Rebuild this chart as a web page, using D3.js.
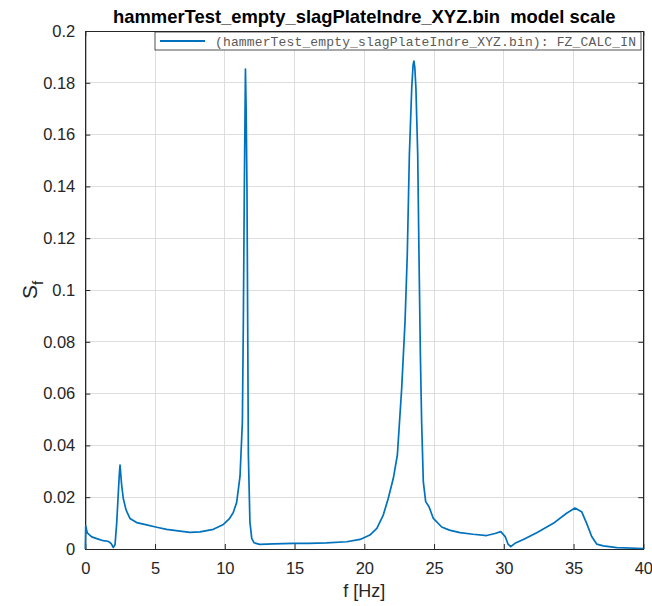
<!DOCTYPE html>
<html>
<head>
<meta charset="utf-8">
<script src="https://cdn.jsdelivr.net/npm/d3@7"></script>
<style>
  html, body { margin: 0; padding: 0; background: #fff; }
  svg { display: block; }
</style>
</head>
<body>
<svg id="chart" width="652" height="606"></svg>
<script>
// Spectrum S_f versus frequency (hammer test)
const freq = [0, 0.03, 0.14, 0.46, 0.82, 1.29, 1.6, 1.75, 1.87, 2.0, 2.13, 2.25, 2.34, 2.44, 2.49, 2.54, 2.6,
  2.72, 2.92, 3.2, 3.68, 4.4, 5.12, 5.83, 6.79, 7.5, 8.22, 9.18, 9.9, 10.3, 10.6, 10.85, 11.09, 11.26,
  11.33, 11.4, 11.48, 11.53, 11.59, 11.64, 11.69, 11.8, 11.93, 12.1, 12.5, 13.5, 14.9, 16, 17.3, 18.74,
  19.7, 20.4, 20.9, 21.36, 21.72, 22.08, 22.37, 22.68, 22.92, 23.08, 23.23, 23.4, 23.5, 23.56, 23.62,
  23.7, 23.83, 23.92, 24.02, 24.11, 24.23, 24.4, 24.64, 24.95, 25.55, 26.1, 26.86, 27.8, 28.77, 29.37,
  29.78, 30.1, 30.3, 30.5, 30.8, 31.4, 32.36, 33.55, 34.5, 35.1, 35.58, 35.94, 36.3, 36.66, 37.13, 38.1, 40];
const sf = [0, 0.0089, 0.0062, 0.0047, 0.0040, 0.0032, 0.0030, 0.0026, 0.0020, 0.0006, 0.0016, 0.0099, 0.019,
  0.029, 0.0324, 0.029, 0.0250, 0.0196, 0.0151, 0.0118, 0.0102, 0.0093, 0.0084, 0.0076, 0.0069, 0.0064,
  0.0066, 0.0076, 0.0095, 0.0115, 0.014, 0.018, 0.028, 0.049, 0.0878, 0.139, 0.1853, 0.17, 0.139, 0.0878,
  0.0363, 0.0105, 0.0041, 0.0024, 0.0018, 0.0020, 0.0022, 0.0022, 0.0024, 0.0028, 0.0037, 0.0054, 0.0080,
  0.0131, 0.0196, 0.0273, 0.0363, 0.062, 0.0878, 0.1135, 0.152, 0.178, 0.187, 0.1884, 0.186, 0.178, 0.152,
  0.1135, 0.0749, 0.049, 0.026, 0.0183, 0.0163, 0.0118, 0.0085, 0.0073, 0.0063, 0.0057, 0.0052, 0.0060,
  0.0067, 0.0048, 0.0019, 0.0009, 0.0022, 0.0037, 0.0063, 0.0099, 0.0138, 0.0158, 0.0144, 0.0099, 0.0048,
  0.0019, 0.0012, 0.0005, 0.0002];

const xTicks = [0, 5, 10, 15, 20, 25, 30, 35, 40];
const yTicks = [0, 0.02, 0.04, 0.06, 0.08, 0.1, 0.12, 0.14, 0.16, 0.18, 0.2];
const titleText = "hammerTest_empty_slagPlateIndre_XYZ.bin  model scale";
const legendText = "(hammerTest_empty_slagPlateIndre_XYZ.bin): FZ_CALC_IN";

const margin = { left: 85.3, right: 643.3, top: 31, bottom: 549 };
const lineColor = "#0072BD";
const axisColor = "#262626";
const font = "'Liberation Sans', Arial, Helvetica, sans-serif";

const svg = d3.select("#chart");

const x = d3.scaleLinear().domain([0, 40]).range([margin.left, margin.right]);
const y = d3.scaleLinear().domain([0, 0.2]).range([margin.bottom, margin.top]);

// grid
const grid = svg.append("g");
grid.selectAll("line.gx").data(xTicks).join("line")
  .attr("x1", d => x(d)).attr("x2", d => x(d))
  .attr("y1", margin.top).attr("y2", margin.bottom)
  .attr("stroke", "#dedede").attr("stroke-width", 1).attr("shape-rendering", "crispEdges");
grid.selectAll("line.gy").data(yTicks).join("line")
  .attr("x1", margin.left).attr("x2", margin.right)
  .attr("y1", d => y(d)).attr("y2", d => y(d))
  .attr("stroke", "#dedede").attr("stroke-width", 1).attr("shape-rendering", "crispEdges");

// axes with inward ticks
svg.append("g").attr("transform", `translate(0,${margin.bottom})`)
  .call(d3.axisBottom(x).tickValues(xTicks).tickSizeInner(-5).tickSizeOuter(0).tickPadding(13)
    .tickFormat(d3.format("d")));
svg.append("g").attr("transform", `translate(${margin.left},0)`)
  .call(d3.axisLeft(y).tickValues(yTicks).tickSizeInner(-5).tickSizeOuter(0).tickPadding(10)
    .tickFormat(d => d === 0 ? "0" : String(+d.toFixed(2))));
// mirrored ticks on top and right
svg.append("g").attr("transform", `translate(0,${margin.top})`)
  .call(d3.axisTop(x).tickValues(xTicks).tickSizeInner(-5).tickSizeOuter(0).tickFormat(""));
svg.append("g").attr("transform", `translate(${margin.right},0)`)
  .call(d3.axisRight(y).tickValues(yTicks).tickSizeInner(-5).tickSizeOuter(0).tickFormat(""));

svg.selectAll(".domain").attr("stroke", axisColor);
svg.selectAll(".tick line").attr("stroke", axisColor);
svg.selectAll(".tick text").attr("fill", axisColor).style("font-family", font).style("font-size", "16.5px");

// frame
svg.append("rect")
  .attr("x", margin.left).attr("y", margin.top)
  .attr("width", margin.right - margin.left).attr("height", margin.bottom - margin.top)
  .attr("fill", "none").attr("stroke", axisColor).attr("stroke-width", 1).attr("shape-rendering", "crispEdges");

// data line
const pts = freq.map((f, i) => [f, sf[i]]);
svg.append("path")
  .datum(pts)
  .attr("fill", "none")
  .attr("stroke", lineColor)
  .attr("stroke-width", 1.7)
  .attr("stroke-linejoin", "round")
  .attr("d", d3.line().x(d => x(d[0])).y(d => y(d[1])));

// title
svg.append("text")
  .attr("x", (margin.left + margin.right) / 2).attr("y", 23)
  .attr("text-anchor", "middle")
  .style("font-family", font).style("font-size", "18.4px").style("font-weight", "bold")
  .attr("fill", "#000")
  .attr("xml:space", "preserve")
  .text(titleText);

// axis labels
svg.append("text")
  .attr("x", (margin.left + margin.right) / 2).attr("y", 597)
  .attr("text-anchor", "middle")
  .style("font-family", font).style("font-size", "18px")
  .attr("fill", axisColor)
  .text("f [Hz]");

const yl = svg.append("text")
  .attr("transform", `translate(37,${(margin.top + margin.bottom) / 2}) rotate(-90)`)
  .attr("text-anchor", "middle")
  .style("font-family", font).style("font-size", "21px")
  .attr("fill", axisColor);
yl.append("tspan").text("S");
yl.append("tspan").attr("dy", 6).style("font-size", "15px").text("f");

// legend
const lg = svg.append("g");
lg.append("rect")
  .attr("x", 155).attr("y", 32).attr("width", 486).attr("height", 18)
  .attr("fill", "#fff").attr("stroke", axisColor).attr("stroke-width", 0.8);
lg.append("line")
  .attr("x1", 160).attr("x2", 205).attr("y1", 41).attr("y2", 41)
  .attr("stroke", lineColor).attr("stroke-width", 1.8);
lg.append("text")
  .attr("x", 215).attr("y", 45.5)
  .attr("textLength", 421).attr("lengthAdjust", "spacing")
  .style("font-family", "'Liberation Mono', 'Courier New', monospace").style("font-size", "13px")
  .attr("fill", "#5a5a5a")
  .text(legendText);
</script>
</body>
</html>
